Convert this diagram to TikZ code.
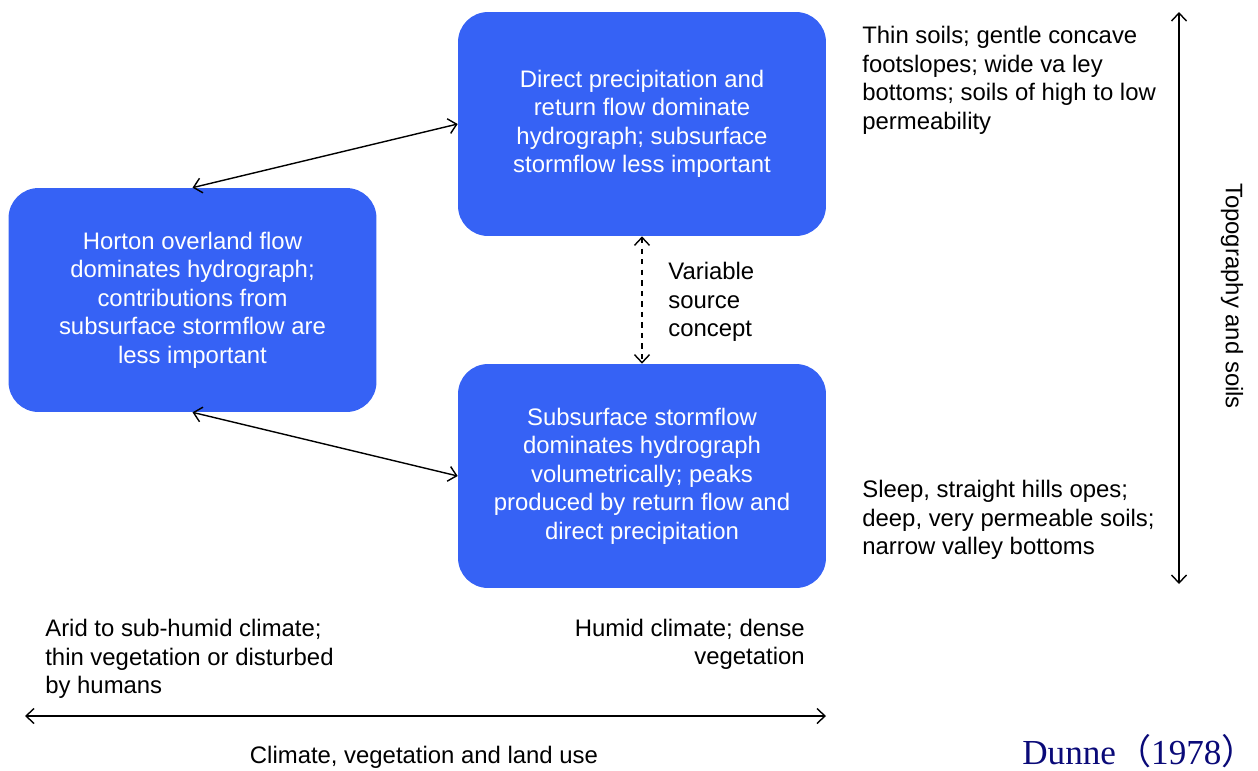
\documentclass[tikz,border=0pt]{standalone}
\usepackage{fontspec}
\setmainfont{Liberation Sans}
\newfontfamily\dunnefont{Liberation Serif}
\newfontfamily\cjk{Noto Sans CJK SC}
\usetikzlibrary{arrows.meta}

\definecolor{boxblue}{RGB}{54,98,245}
\definecolor{citeblue}{RGB}{10,10,120}

\tikzset{
  bluebox/.style={fill=boxblue, text=white, minimum width=7.36cm, minimum height=4.48cm, rounded corners=0.6cm, align=center, inner sep=0pt},
  link/.style={{Straight Barb[length=1.6mm,width=3mm]}-{Straight Barb[length=1.6mm,width=3mm]}, line width=0.8pt},
  note/.style={inner sep=0pt}
}

\begin{document}
\begin{tikzpicture}[x=0.02cm, y=-0.02cm, font=\fontsize{13.6}{16.2}\selectfont]

\useasboundingbox (0,0) rectangle (1258,771);

% the three boxes
\node (direct) at (642,124)[bluebox]{Direct precipitation and\\ return flow dominate\\ hydrograph; subsurface\\ stormflow less important};

\node (horton) at (192.5,300)[bluebox]{Horton overland flow\\ dominates hydrograph;\\ contributions from\\ subsurface stormflow are\\ less important};

\node (subsurface) at (642,476)[bluebox]{Subsurface stormflow\\ dominates hydrograph\\ volumetrically; peaks\\ produced by return flow and\\ direct precipitation};

\draw[link] (horton.north) -- (direct.west);
\draw[link] (horton.south) -- (subsurface.west);
\draw[link, dashed] (direct.south) -- (subsurface.north);

\node (variable) at (668,302)[note, anchor=west, align=left]{Variable\\ source\\ concept};

% topography axis
\coordinate (topo1) at (1179,12);
\coordinate (topo2) at (1179,584);
\draw[link] (topo1) -- (topo2);
\node (topo) at (1232,296)[note, rotate=-90]{Topography and soils};

\node (thin) at (862,80.5)[note, anchor=west, align=left]{Thin soils; gentle concave\\ footslopes; wide va ley\\ bottoms; soils of high to low\\ permeability};

\node (steep) at (862,520)[note, anchor=west, align=left]{Sleep, straight hills opes;\\ deep, very permeable soils;\\ narrow valley bottoms};

% climate axis
\coordinate (clim1) at (25,716);
\coordinate (clim2) at (826,716);
\draw[link] (clim1) -- (clim2);
\node (climate) at (424,757)[note]{Climate, vegetation and land use};

\node (arid) at (45,659)[note, anchor=west, align=left]{Arid to sub-humid climate;\\ thin vegetation or disturbed\\ by humans};

\node (humid) at (805,644.5)[note, anchor=east, align=right]{Humid climate; dense\\ vegetation};

\node (dunne) at (1022,764)[note, anchor=base west, text=citeblue, font=\dunnefont\fontsize{20}{24}\selectfont]{Dunne{\cjk （}1978{\cjk ）}};

\end{tikzpicture}
\end{document}
